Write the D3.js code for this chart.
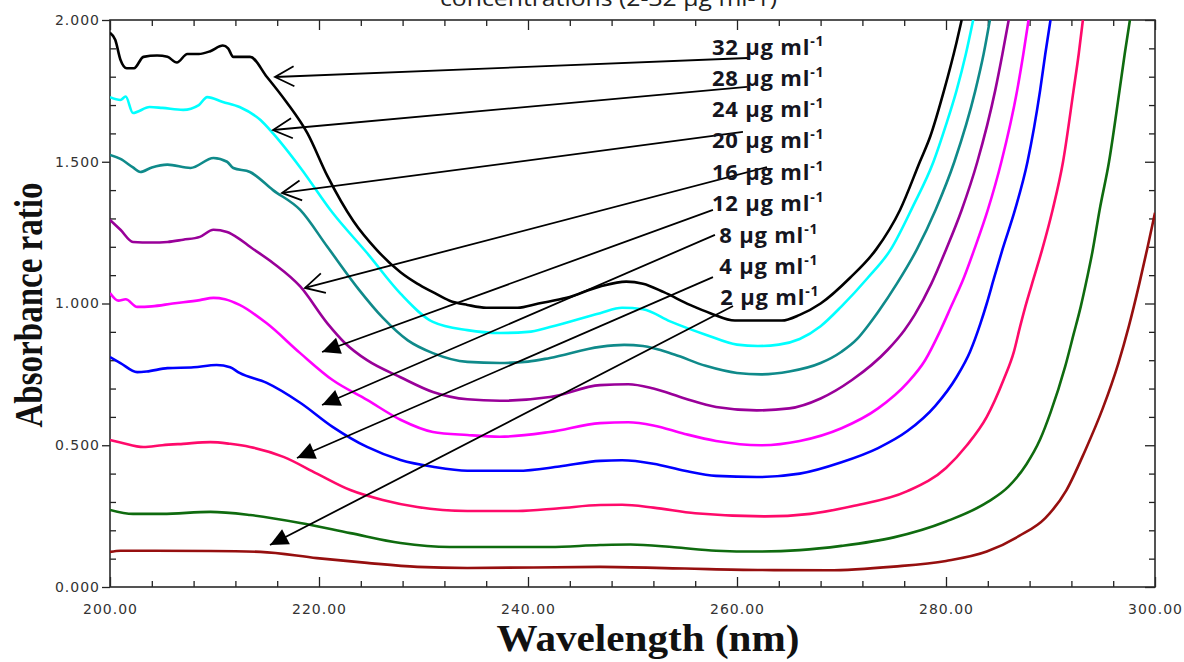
<!DOCTYPE html>
<html><head><meta charset="utf-8">
<script src="https://cdn.jsdelivr.net/npm/d3@7"></script>
<style>body{margin:0;background:#fff}svg{display:block}</style>
</head><body>
<svg id="chart" width="1184" height="662"></svg>
<script>
// ---------- data ----------
const concentrations = ["32", "28", "24", "20", "16", "12", "8", "4", "2"];
const seriesColors = ["#000000", "#00ffff", "#0f8a8a", "#990099", "#ff00ff", "#0000ff", "#ff0a6a", "#0f6b0f", "#960f0f"];

const abs32 = [[200,1.955],[200.5,1.93],[201,1.86],[201.6,1.83],[202.3,1.83],[203.2,1.87],[204.5,1.875],[205.5,1.87],[206.4,1.85],[207.4,1.88],[208.5,1.88],[209.6,1.89],[210.8,1.91],[211.3,1.90],[211.8,1.87],[213.4,1.87],[215,1.80],[216.9,1.71],[218.9,1.60],[220.8,1.45],[223.3,1.29],[225.5,1.19],[227.8,1.11],[229.4,1.07],[230.9,1.04],[232.5,1.01],[234.2,0.995],[236,0.985],[239,0.985],[241,1.0],[243.7,1.02],[246.9,1.06],[249.4,1.077],[251,1.07],[253,1.04],[255.5,0.995],[257.5,0.965],[259.8,0.94],[264.3,0.94],[266,0.96],[268,1.0],[270.8,1.09],[273.3,1.19],[275.6,1.33],[277.5,1.5],[278.5,1.59],[279.8,1.75],[281,1.92],[281.5,2.0]];
const abs28 = [[200,1.728],[201,1.718],[201.5,1.73],[202.2,1.672],[203.8,1.693],[205,1.69],[207,1.683],[208.5,1.70],[209.3,1.728],[210.8,1.711],[212.4,1.693],[214.4,1.647],[215.6,1.60],[218.2,1.48],[221.3,1.32],[224.6,1.178],[227.8,1.035],[230.9,0.935],[234.2,0.906],[237.3,0.896],[240,0.90],[242.1,0.917],[246.9,0.966],[249,0.985],[251,0.98],[253.6,0.937],[257,0.89],[260,0.855],[262,0.85],[264,0.855],[266,0.875],[268,0.92],[270,0.99],[272.5,1.09],[274.7,1.19],[276.8,1.34],[278.8,1.5],[280,1.63],[281,1.75],[281.9,1.88],[282.6,2.0]];
const abs24 = [[200,1.524],[201,1.51],[202.2,1.48],[202.9,1.464],[204,1.48],[205.5,1.49],[207.7,1.478],[209.9,1.513],[211.2,1.50],[211.8,1.478],[213.4,1.464],[215.6,1.40],[218.2,1.33],[220.8,1.20],[223.8,1.05],[226.1,0.95],[228.5,0.87],[230.9,0.825],[234.2,0.794],[237.3,0.79],[240,0.795],[242.1,0.808],[246.9,0.847],[249.2,0.854],[251,0.85],[254,0.82],[257,0.78],[260,0.755],[262.3,0.75],[265,0.76],[268,0.79],[270,0.83],[271.5,0.875],[272.5,0.92],[273.5,0.97],[275.3,1.07],[277.2,1.19],[279,1.33],[280.8,1.5],[282.8,1.75],[283.6,1.88],[284.2,2.0]];
const abs20 = [[200,1.295],[201,1.26],[202.2,1.217],[204,1.215],[205.5,1.217],[207,1.225],[208.6,1.235],[209.9,1.26],[211.2,1.252],[212.3,1.23],[213.4,1.2],[215.6,1.143],[218.2,1.06],[220.8,0.93],[222.5,0.86],[224.6,0.80],[227.8,0.74],[230.9,0.688],[234.2,0.662],[237.3,0.657],[242.1,0.67],[246.9,0.712],[249.6,0.715],[252,0.70],[255,0.665],[258,0.635],[261.9,0.623],[265,0.63],[268,0.665],[271,0.73],[274.4,0.836],[276,0.905],[277,0.96],[278.6,1.07],[280,1.19],[281.5,1.33],[283,1.5],[284.7,1.75],[285.4,1.88],[286,2.0]];
const abs16 = [[200,1.037],[200.8,1.01],[201.5,1.015],[202.6,0.988],[204,0.99],[206,1.0],[208.6,1.012],[209.9,1.02],[211,1.015],[212.4,0.995],[215,0.93],[218.2,0.825],[221.3,0.73],[224.6,0.66],[227.8,0.59],[230.9,0.547],[234.2,0.536],[237.3,0.53],[242.1,0.547],[246.9,0.578],[249.6,0.581],[252,0.57],[255,0.54],[258,0.515],[262.3,0.50],[266,0.515],[270,0.56],[273.5,0.63],[276.3,0.72],[278,0.80],[279.4,0.90],[280.5,0.99],[281.7,1.09],[282.7,1.19],[284,1.33],[285.3,1.5],[286.8,1.75],[287.4,1.88],[287.9,2.0]];
const abs12 = [[200,0.811],[201,0.79],[202.6,0.758],[203.5,0.76],[205.5,0.772],[208,0.775],[210.2,0.783],[211.5,0.775],[212.4,0.755],[215,0.72],[218.2,0.65],[221.3,0.565],[224.6,0.494],[227.8,0.448],[230.9,0.424],[234.2,0.41],[239,0.41],[243,0.425],[246.9,0.445],[249,0.447],[252,0.435],[255,0.41],[258,0.392],[261.9,0.388],[266,0.40],[270,0.44],[273.5,0.49],[276.3,0.55],[279,0.64],[281,0.74],[282.3,0.83],[283.3,0.93],[283.9,1.0],[284.6,1.09],[285.4,1.19],[286.6,1.33],[287.8,1.5],[289,1.75],[289.5,1.88],[290,2.0]];
const abs8 = [[200,0.518],[201,0.51],[203.2,0.494],[205,0.50],[207,0.505],[209.6,0.511],[211.5,0.505],[213.4,0.494],[216.6,0.459],[219.8,0.40],[223,0.342],[226.1,0.307],[229.4,0.282],[234.2,0.268],[239,0.268],[243,0.278],[246.9,0.289],[249,0.29],[252,0.28],[256,0.26],[262.7,0.249],[267,0.258],[271,0.285],[276.3,0.338],[280,0.42],[282,0.50],[283.9,0.60],[285.5,0.73],[286.5,0.83],[287.1,0.92],[287.6,0.99],[288.4,1.09],[289.2,1.19],[290.2,1.33],[291.2,1.5],[292.2,1.75],[292.7,1.88],[293.1,2.0]];
const abs4 = [[200,0.272],[202.2,0.258],[205,0.258],[209.6,0.265],[213.4,0.254],[218.2,0.226],[223,0.19],[227.8,0.155],[232.5,0.141],[242.1,0.141],[246.9,0.148],[249.8,0.150],[254,0.14],[258,0.128],[261.9,0.125],[266,0.13],[270,0.145],[275,0.175],[280,0.231],[284,0.30],[286,0.355],[287.7,0.433],[289,0.52],[290,0.615],[291.4,0.777],[292.2,0.89],[292.9,0.99],[293.5,1.09],[294,1.18],[294.7,1.33],[295.6,1.5],[296.6,1.75],[297.1,1.88],[297.6,2.0]];
const abs2 = [[200,0.124],[201,0.128],[209.6,0.127],[214.4,0.124],[219.8,0.102],[224.6,0.085],[229.4,0.071],[234.2,0.067],[246.9,0.071],[255,0.065],[262,0.06],[268.7,0.059],[275,0.072],[280,0.092],[283.9,0.125],[287,0.18],[289.5,0.243],[291.5,0.34],[293.3,0.48],[295,0.63],[296.5,0.79],[297.5,0.92],[298.5,1.07],[299.3,1.2],[300,1.32]];
const seriesValues = [abs32, abs28, abs24, abs20, abs16, abs12, abs8, abs4, abs2];

const xMajorTicks = [200, 220, 240, 260, 280, 300];
const xTickLabels = ["200.00", "220.00", "240.00", "260.00", "280.00", "300.00"];
const yMajorTicks = [0, 0.5, 1.0, 1.5, 2.0];
const yTickLabels = ["0.000", "0.500", "1.000", "1.500", "2.000"];

// annotation labels and arrows (in data units)
const labelUnit = " µg ml";
const labelSup = "-1";
const labelX = [257.6, 257.6, 257.6, 257.6, 257.6, 257.6, 258.3, 258.3, 258.4];
const labelY = [1.877, 1.767, 1.658, 1.549, 1.436, 1.326, 1.213, 1.104, 0.995];
const arrowTails = [[261.05,1.866],[260.96,1.764],[260.57,1.605],[262.87,1.481],[257.70,1.330],[257.89,1.242],[257.70,1.093],[259.62,0.991]];
const arrowTips = [[215.79,1.799],[215.6,1.612],[216.46,1.390],[218.66,1.055],[220.29,0.829],[220.29,0.642],[217.89,0.455],[215.31,0.148]];
const arrowHeads = ["open","open","open","open","filled","filled","filled","filled"];

const xTitle = "Wavelength (nm)";
const yTitle = "Absorbance ratio";
const topTitle = "concentrations (2-32 µg ml-1)";

// ---------- drawing ----------
const W = 1184, H = 662;
const m = {left: 110, top: 20, right: 29, bottom: 75};
const svg = d3.select("#chart");
const x = d3.scaleLinear().domain([200, 300]).range([m.left, W - m.right]);
const y = d3.scaleLinear().domain([0, 2]).range([H - m.bottom, m.top]);

// partially visible title at very top (cut by the picture edge, as in the reference)
svg.append("text").attr("x", 440).attr("y", 6)
  .attr("font-family", "Open Sans, sans-serif").attr("font-size", 22).attr("fill", "#222")
  .attr("textLength", 337).attr("lengthAdjust", "spacingAndGlyphs").text(topTitle);

svg.append("defs").append("clipPath").attr("id", "plotclip")
  .append("rect").attr("x", m.left).attr("y", m.top)
  .attr("width", W - m.left - m.right).attr("height", H - m.top - m.bottom);

const xMinor = d3.range(200, 300.01, 4).filter(v => v % 20 !== 0);
const yMinor = d3.range(0, 20.01, 1).map(v => v / 10).filter(v => Math.round(v * 10) % 5 !== 0);

function styleAxis(g) {
  g.select(".domain").remove();
  g.selectAll(".tick line").attr("stroke", "#222").attr("stroke-width", 1.3);
  g.selectAll(".tick text").attr("fill", "#333").attr("font-family", "DejaVu Sans, sans-serif")
    .attr("font-size", 14).attr("letter-spacing", "1px");
}

const yb = H - m.bottom, xr = W - m.right;
// bottom
svg.append("g").attr("transform", `translate(0,${yb})`)
  .call(d3.axisBottom(x).tickValues(xMinor).tickSize(-6).tickFormat("")).call(styleAxis);
svg.append("g").attr("transform", `translate(0,${yb})`)
  .call(d3.axisBottom(x).tickValues(xMajorTicks).tickSize(-10).tickPadding(17)
    .tickFormat((d, i) => xTickLabels[i])).call(styleAxis);
// top
svg.append("g").attr("transform", `translate(0,${m.top})`)
  .call(d3.axisTop(x).tickValues(xMinor).tickSize(-6).tickFormat("")).call(styleAxis);
svg.append("g").attr("transform", `translate(0,${m.top})`)
  .call(d3.axisTop(x).tickValues(xMajorTicks).tickSize(-10).tickFormat("")).call(styleAxis);
// left
svg.append("g").attr("transform", `translate(${m.left},0)`)
  .call(d3.axisLeft(y).tickValues(yMinor).tickSize(-6).tickFormat("")).call(styleAxis);
svg.append("g").attr("transform", `translate(${m.left},0)`)
  .call(d3.axisLeft(y).tickValues(yMajorTicks).tickSize(8).tickPadding(2)
    .tickFormat((d, i) => yTickLabels[i])).call(styleAxis);
// right
svg.append("g").attr("transform", `translate(${xr},0)`)
  .call(d3.axisRight(y).tickValues(yMinor).tickSize(-6).tickFormat("")).call(styleAxis);
svg.append("g").attr("transform", `translate(${xr},0)`)
  .call(d3.axisRight(y).tickValues(yMajorTicks).tickSize(-10).tickFormat("")).call(styleAxis);

// frame
svg.append("rect").attr("x", m.left).attr("y", m.top)
  .attr("width", W - m.left - m.right).attr("height", H - m.top - m.bottom)
  .attr("fill", "none").attr("stroke", "#2a2a2a").attr("stroke-width", 1.6);

// curves
const line = d3.line().x(d => x(d[0])).y(d => y(d[1])).curve(d3.curveMonotoneX);
svg.append("g").attr("clip-path", "url(#plotclip)")
  .selectAll("path").data(seriesValues).join("path")
  .attr("d", line).attr("fill", "none")
  .attr("stroke", (d, i) => seriesColors[i]).attr("stroke-width", 2.6)
  .attr("stroke-linejoin", "round");

// arrows
const ag = svg.append("g");
arrowTails.forEach((t, i) => {
  const x1 = x(t[0]), y1 = y(t[1]);
  const x2 = x(arrowTips[i][0]), y2 = y(arrowTips[i][1]);
  ag.append("line").attr("x1", x1).attr("y1", y1).attr("x2", x2).attr("y2", y2)
    .attr("stroke", "#000").attr("stroke-width", 1.8);
  const ang = Math.atan2(y1 - y2, x1 - x2);
  const L = arrowHeads[i] === "open" ? 19 : 18, Wd = arrowHeads[i] === "open" ? 10 : 8.5;
  const bx = x2 + L * Math.cos(ang), by = y2 + L * Math.sin(ang);
  const px = -Math.sin(ang) * Wd, py = Math.cos(ang) * Wd;
  if (arrowHeads[i] === "open") {
    ag.append("path").attr("d", `M${bx + px},${by + py}L${x2},${y2}L${bx - px},${by - py}`)
      .attr("fill", "none").attr("stroke", "#000").attr("stroke-width", 1.8);
  } else {
    ag.append("path").attr("d", `M${x2},${y2}L${bx + px},${by + py}L${bx - px},${by - py}Z`)
      .attr("fill", "#000");
  }
});

// labels
const lg = svg.append("g").attr("font-family", "Open Sans, sans-serif").attr("font-weight", "bold").attr("fill", "#151520");
concentrations.forEach((c, i) => {
  const t = lg.append("text").attr("x", x(labelX[i])).attr("y", y(labelY[i]))
    .attr("font-size", 22).attr("letter-spacing", "0.8px");
  t.append("tspan").text(c + labelUnit);
  t.append("tspan").attr("font-size", 14).attr("dy", -9).text(labelSup);
});

// axis titles
svg.append("text").attr("x", 648).attr("y", 651).attr("text-anchor", "middle")
  .attr("font-family", "Liberation Serif, Times New Roman, serif").attr("font-weight", "bold")
  .attr("font-size", 38).attr("fill", "#111")
  .attr("textLength", 303).attr("lengthAdjust", "spacingAndGlyphs").text(xTitle);
svg.append("text").attr("transform", "translate(42,305) rotate(-90)").attr("text-anchor", "middle")
  .attr("font-family", "Liberation Serif, Times New Roman, serif").attr("font-weight", "bold")
  .attr("font-size", 40).attr("fill", "#111")
  .attr("textLength", 245).attr("lengthAdjust", "spacingAndGlyphs").text(yTitle);
</script>
</body></html>
